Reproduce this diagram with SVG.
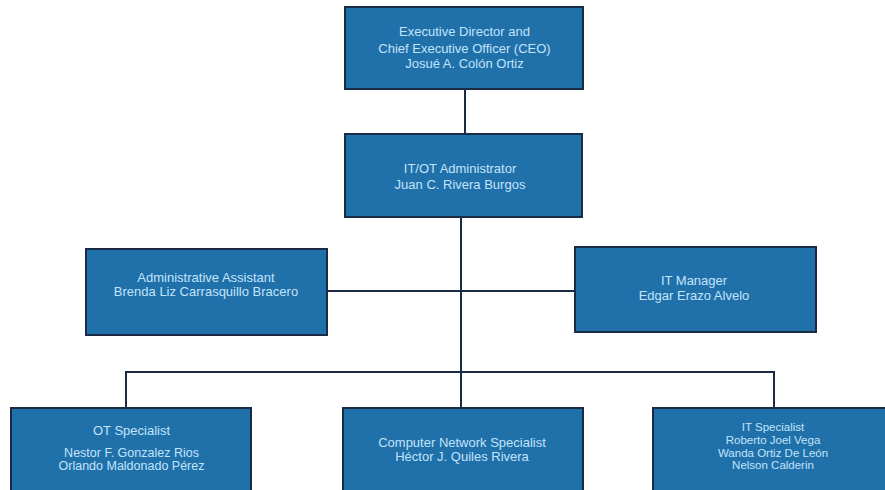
<svg xmlns="http://www.w3.org/2000/svg" width="885" height="490" viewBox="0 0 885 490">
<style>
.box{fill:#2070aa;stroke:#1b2b45;stroke-width:2}
.t{font-family:"Liberation Sans",Arial,sans-serif;font-size:13px;fill:#c2e4fa;text-anchor:middle}
.s{font-size:11.5px}
.n{font-size:12.5px}
.c{fill:none;stroke:#1b2a45;stroke-width:2}
</style>
<rect width="885" height="490" fill="#ffffff"/>
<g id="connectors">
<line class="c" x1="465" y1="89" x2="465" y2="134"/>
<line class="c" x1="461" y1="217" x2="461" y2="408"/>
<line class="c" x1="327" y1="291" x2="575" y2="291"/>
<polyline class="c" points="126,408 126,372 774,372 774,408"/>
</g>
<g id="ceo">
<rect class="box" x="345" y="7" width="238" height="82"/>
<text class="t" x="464.5" y="36">Executive Director and</text>
<text class="t" x="464.5" y="52.5">Chief Executive Officer (CEO)</text>
<text class="t" x="464.5" y="67.5">Josué A. Colón Ortiz</text>
</g>
<g id="itot">
<rect class="box" x="345" y="134" width="237" height="83"/>
<text class="t" x="460" y="173">IT/OT Administrator</text>
<text class="t" x="460" y="189">Juan C. Rivera Burgos</text>
</g>
<g id="assistant">
<rect class="box" x="86" y="249" width="241" height="86"/>
<text class="t" x="206" y="281.5">Administrative Assistant</text>
<text class="t" x="206" y="295.5">Brenda Liz Carrasquillo Bracero</text>
</g>
<g id="itmanager">
<rect class="box" x="575" y="247" width="241" height="85"/>
<text class="t" x="694" y="285">IT Manager</text>
<text class="t" x="694" y="300">Edgar Erazo Alvelo</text>
</g>
<g id="ot">
<rect class="box" x="11" y="408" width="240" height="90"/>
<text class="t" x="131.5" y="435">OT Specialist</text>
<text class="t n" x="131.5" y="457">Nestor F. Gonzalez Rios</text>
<text class="t n" x="131.5" y="470">Orlando Maldonado Pérez</text>
</g>
<g id="network">
<rect class="box" x="343" y="408" width="240" height="90"/>
<text class="t" x="462" y="447">Computer Network Specialist</text>
<text class="t" x="462" y="461">Héctor J. Quiles Rivera</text>
</g>
<g id="itspecialist">
<rect class="box" x="653" y="408" width="240" height="90"/>
<text class="t s" x="773" y="431">IT Specialist</text>
<text class="t s" x="773" y="444">Roberto Joel Vega</text>
<text class="t s" x="773" y="457">Wanda Ortiz  De León</text>
<text class="t s" x="773" y="469">Nelson Calderin</text>
</g>
</svg>
